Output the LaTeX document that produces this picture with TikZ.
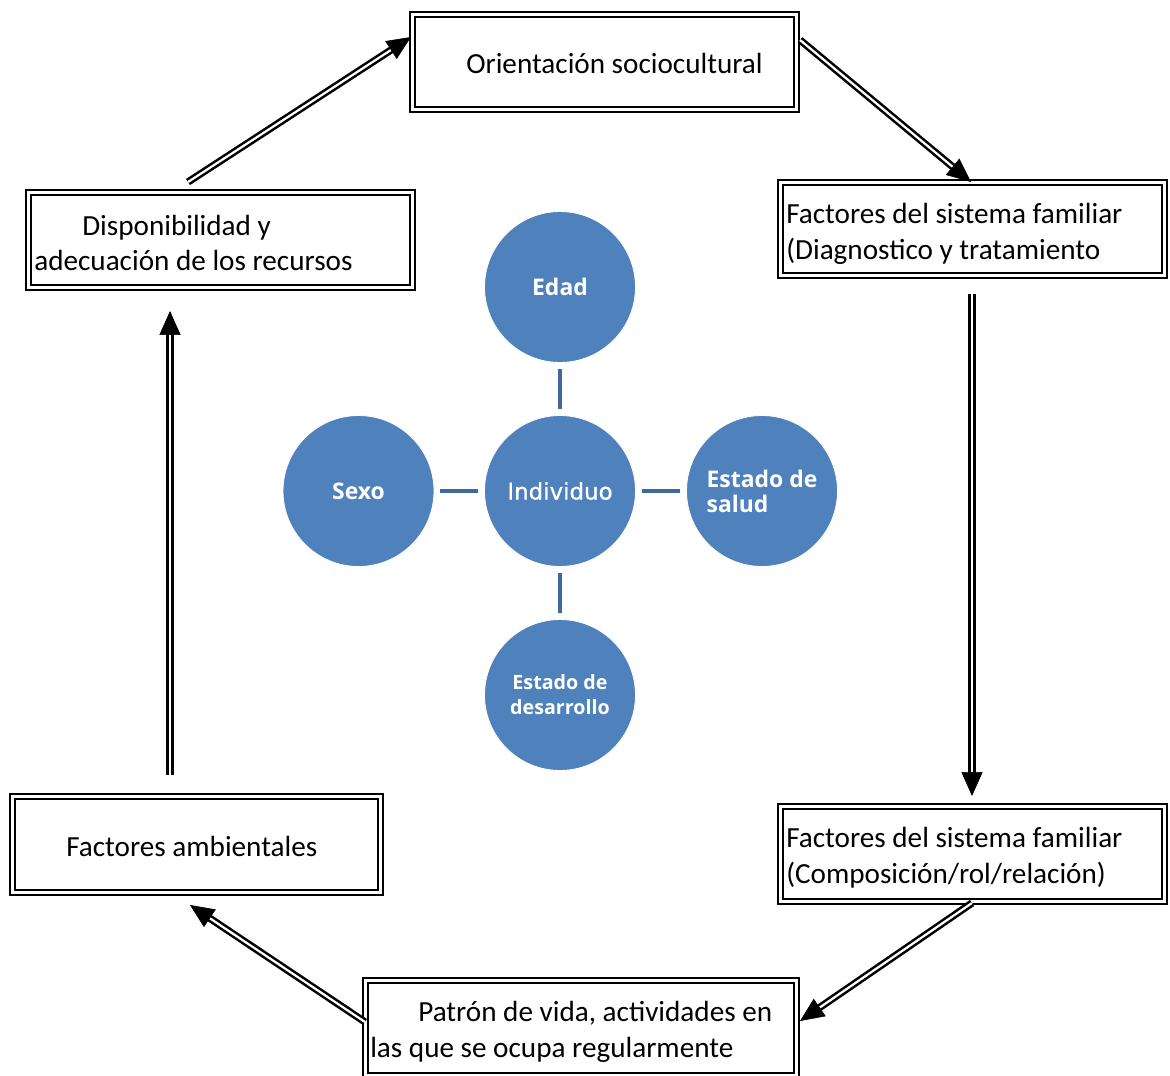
\documentclass[tikz,border=0pt]{standalone}
\usepackage{fontspec}
\setmainfont{Carlito}
\newfontfamily\circfont{Open Sans}
\newfontfamily\centrefont[FakeBold=0.8]{DejaVu Sans}
\usetikzlibrary{arrows.meta,calc}
\definecolor{circblue}{HTML}{4F81BD}
\definecolor{linkblue}{HTML}{41689A}
\begin{document}
\begin{tikzpicture}[x=0.025cm,y=-0.025cm,
  box/.style 2 args={draw, double, line width=1.5pt, double distance=2.2pt,
    inner sep=0pt, minimum width=#1*0.025cm, minimum height=#2*0.025cm},
  lbl/.style={anchor=base west, inner sep=0pt,
    font=\fontsize{20.75pt}{25.6pt}\selectfont},
  circ/.style={circle, fill=circblue, draw=white, line width=0.6pt,
    minimum size=151*0.025cm, inner sep=0pt, text=white},
  cbold/.style={font=\circfont\bfseries\fontsize{16.3pt}{17.8pt}\selectfont},
  creg/.style={font=\centrefont\fontsize{16.3pt}{18pt}\selectfont},
  csmall/.style={font=\circfont\bfseries\fontsize{14pt}{17.8pt}\selectfont},
  link/.style={draw=linkblue, line width=3pt, shorten <=4pt, shorten >=4pt},
  shaft/.style={draw, double, line width=1.8pt, double distance=1.6pt,
    shorten >=14pt},
  head/.style={draw, line width=0.4pt,
    -{Triangle[length=17pt, width=15pt]}}]

\useasboundingbox (0,0) rectangle (1170,1076);

% framed boxes of the cycle
\node[box={383.5}{94.5}] (orient) at (604.5,62) {};
\node[box={383.5}{92.5}] (diag)   at (972.5,229) {};
\node[box={383.5}{94.5}] (disp)   at (220.5,240) {};
\node[box={367.5}{95.5}] (amb)    at (196.5,844.5) {};
\node[box={383.5}{94.5}] (comp)   at (972.5,854) {};
\node[box={430.5}{94.5}] (patron) at (581,1028) {};

% box texts
\node[lbl] (t1)  at (466,73.5)   {Orientación sociocultural};
\node[lbl] (t2a) at (786,223.5)  {Factores del sistema familiar};
\node[lbl] (t2b) at (786,259.5)  {(Diagnostico y tratamiento};
\node[lbl] (t3a) at (82,235.5)   {Disponibilidad y};
\node[lbl] (t3b) at (34,270.5)   {adecuación de los recursos};
\node[lbl] (t4)  at (66,856.5)   {Factores ambientales};
\node[lbl] (t5a) at (786,847.5)  {Factores del sistema familiar};
\node[lbl] (t5b) at (786,883.5)  {(Composición/rol/relación)};
\node[lbl] (t6a) at (418,1021.5) {Patrón de vida, actividades en};
\node[lbl] (t6b) at (370,1057.5) {las que se ocupa regularmente};

% central circles
\node[circ, cbold]  (edad)  at (560,287)   {Edad};
\node[circ, creg]   (ind)   at (560,491)   {Individuo};
\node[circ, cbold]  (sexo)  at (358.5,491) {Sexo};
\node[circ, cbold, align=left]   (salud) at (762,491) {Estado de\\salud};
\node[circ, csmall, align=center] (desa) at (560,695) {Estado de\\desarrollo};

\draw[link] (edad) -- (ind);
\draw[link] (sexo) -- (ind);
\draw[link] (ind) -- (salud);
\draw[link] (ind) -- (desa);

% arrow end points
\coordinate (a1s) at (188,182);  \coordinate (a1t) at (411,37);
\coordinate (a2s) at (800,40);   \coordinate (a2t) at (971,182);
\coordinate (a3s) at (972,294);  \coordinate (a3t) at (972,796);
\coordinate (a4s) at (972,903);  \coordinate (a4t) at (800,1021);
\coordinate (a5s) at (365,1022); \coordinate (a5t) at (190,905);
\coordinate (a6s) at (170,775);  \coordinate (a6t) at (170,311);

% double-line arrows
\foreach \n in {1,...,6}{
  \draw[shaft] (a\n s) -- (a\n t);
  \draw[head] ($(a\n t)!16pt!(a\n s)$) -- (a\n t);
}
\end{tikzpicture}
\end{document}
